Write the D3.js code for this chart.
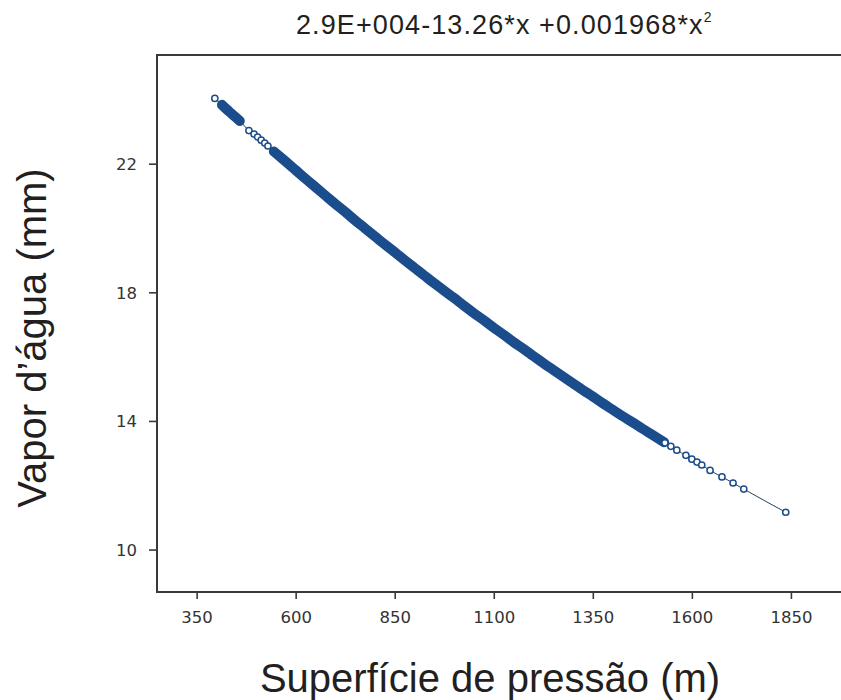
<!DOCTYPE html>
<html>
<head>
<meta charset="utf-8">
<script src="https://cdnjs.cloudflare.com/ajax/libs/d3/7.8.5/d3.min.js"></script>
<style>
  body { margin: 0; background: #fff; }
  svg { display: block; }
</style>
</head>
<body>
<div id="chart"></div>
<script>
// pontos isolados (círculos abertos)
const presPontos = [396, 482, 495, 504, 513, 522, 530, 1532, 1547, 1562, 1585, 1600, 1613, 1625, 1646, 1676, 1704, 1731, 1837];
const vapPontos  = [24.03, 23.03, 22.92, 22.83, 22.73, 22.64, 22.55, 13.32, 13.21, 13.09, 12.93, 12.81, 12.72, 12.63, 12.46, 12.26, 12.07, 11.88, 11.16];

// faixa densa de pontos (muitos pontos sobrepostos)
const presFaixa1 = [414, 425, 437, 448, 459];
const vapFaixa1  = [23.83, 23.70, 23.57, 23.45, 23.33];

const presFaixa2 = [545, 570, 600, 625, 650, 675, 700, 725, 750, 775, 800, 825, 850, 875, 900, 925, 950, 975,
  1000, 1025, 1050, 1075, 1100, 1125, 1150, 1175, 1200, 1225, 1250, 1275, 1300, 1325, 1350, 1375, 1400, 1425,
  1450, 1475, 1500, 1530];
const vapFaixa2  = [22.38, 22.12, 21.80, 21.53, 21.27, 21.01, 20.75, 20.50, 20.24, 19.99, 19.74, 19.49, 19.25, 19.00,
  18.76, 18.52, 18.28, 18.05, 17.82, 17.58, 17.35, 17.13, 16.90, 16.68, 16.45, 16.24, 16.02, 15.80, 15.59, 15.38,
  15.17, 14.96, 14.76, 14.55, 14.35, 14.15, 13.96, 13.76, 13.57, 13.34];

const xTicks = [350, 600, 850, 1100, 1350, 1600, 1850];
const yTicks = [10, 14, 18, 22];

const titulo = "2.9E+004-13.26*x +0.001968*x";
const tituloX = "Superfície de pressão (m)";
const tituloY = "Vapor d\u2019água (mm)";

const width = 841, height = 700;
const plot = { left: 157, right: 823, top: 55, bottom: 592 };
const azul = "#1b4c8b";

let svg = d3.select("#chart").append("svg")
  .attr("width", width)
  .attr("height", height);

let x = d3.scaleLinear().domain([250, 1931]).range([plot.left, plot.right]);
let y = d3.scaleLinear().domain([8.68, 25.38]).range([plot.bottom, plot.top]);

// moldura: esquerda, topo e base
svg.append("g").attr("class", "frame")
  .selectAll("line")
  .data([
    [plot.left, plot.top, plot.left, plot.bottom],
    [plot.left, plot.top, width, plot.top],
    [plot.left, plot.bottom, width, plot.bottom]
  ])
  .enter().append("line")
  .attr("x1", d => d[0]).attr("y1", d => d[1])
  .attr("x2", d => d[2]).attr("y2", d => d[3])
  .attr("stroke", "#3a3a3a")
  .attr("stroke-width", 2)
  .attr("stroke-linecap", "square");

// eixos
let xAxis = svg.append("g")
  .attr("transform", "translate(0," + plot.bottom + ")")
  .call(d3.axisBottom(x).tickValues(xTicks).tickSize(7).tickPadding(12).tickFormat(d3.format("d")));

let yAxis = svg.append("g")
  .attr("transform", "translate(" + plot.left + ",0)")
  .call(d3.axisLeft(y).tickValues(yTicks).tickSize(8).tickPadding(12).tickFormat(d3.format("d")));

[xAxis, yAxis].forEach(a => {
  a.select(".domain").remove();
  a.selectAll(".tick line").attr("stroke", "#3a3a3a").attr("stroke-width", 1.6);
  a.selectAll(".tick text")
    .attr("fill", "#333")
    .style("font-family", "'DejaVu Sans', sans-serif")
    .style("font-size", "16.5px");
});
yAxis.selectAll(".tick text").attr("dy", "0.36em");

// dados
let todos = presPontos.map((p, i) => ({ x: p, y: vapPontos[i] }))
  .concat(presFaixa1.map((p, i) => ({ x: p, y: vapFaixa1[i] })))
  .concat(presFaixa2.map((p, i) => ({ x: p, y: vapFaixa2[i] })))
  .sort((a, b) => a.x - b.x);

let faixas = [
  presFaixa1.map((p, i) => ({ x: p, y: vapFaixa1[i] })),
  presFaixa2.map((p, i) => ({ x: p, y: vapFaixa2[i] }))
];

let linha = d3.line()
  .x(d => x(d.x))
  .y(d => y(d.y))
  .curve(d3.curveMonotoneX);

// linha fina que liga todos os pontos
svg.append("path")
  .datum(todos)
  .attr("d", linha)
  .attr("fill", "none")
  .attr("stroke", "#2b3f63")
  .attr("stroke-width", 1);

// faixa densa
svg.selectAll("path.faixa")
  .data(faixas)
  .enter().append("path")
  .attr("class", "faixa")
  .attr("d", linha)
  .attr("fill", "none")
  .attr("stroke", azul)
  .attr("stroke-width", 10)
  .attr("stroke-linecap", "round");

// círculos abertos
svg.selectAll("circle.ponto")
  .data(presPontos.map((p, i) => ({ x: p, y: vapPontos[i] })))
  .enter().append("circle")
  .attr("class", "ponto")
  .attr("cx", d => x(d.x))
  .attr("cy", d => y(d.y))
  .attr("r", 3.1)
  .attr("fill", "#fff")
  .attr("stroke", azul)
  .attr("stroke-width", 1.5);

// títulos
let t = svg.append("text")
  .attr("x", 296)
  .attr("y", 34)
  .attr("fill", "#231f20")
  .style("font-family", "'Liberation Sans', Arial, sans-serif")
  .style("font-size", "27px")
  .style("letter-spacing", "1.1px");
t.append("tspan").text(titulo);
t.append("tspan").attr("dy", -12).style("font-size", "14px").text("2");

svg.append("text")
  .attr("x", 490)
  .attr("y", 692)
  .attr("text-anchor", "middle")
  .attr("fill", "#231f20")
  .style("font-family", "'Liberation Sans', Arial, sans-serif")
  .style("font-size", "40px")
  .text(tituloX);

svg.append("text")
  .attr("transform", "translate(46,338) rotate(-90)")
  .attr("text-anchor", "middle")
  .attr("fill", "#231f20")
  .style("font-family", "'Liberation Sans', Arial, sans-serif")
  .style("font-size", "40px")
  .text(tituloY);
</script>
</body>
</html>
